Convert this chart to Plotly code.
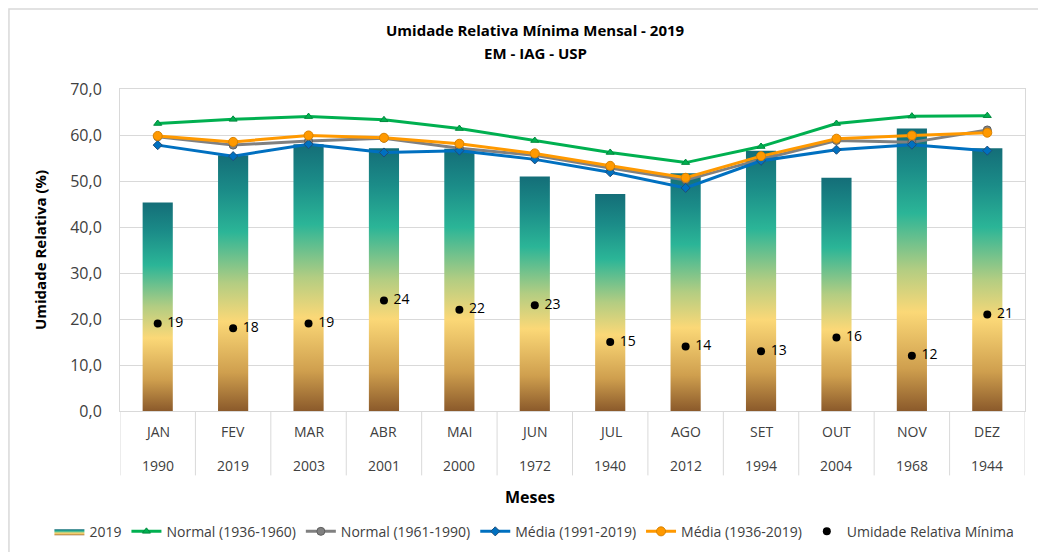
import plotly.graph_objects as go

# months and the year of the record minimum of each month
meses = ["JAN", "FEV", "MAR", "ABR", "MAI", "JUN", "JUL", "AGO", "SET", "OUT", "NOV", "DEZ"]
anos = ["1990", "2019", "2003", "2001", "2000", "1972", "1940", "2012", "1994", "2004", "1968", "1944"]

# 2019 monthly minimum relative humidity (bars)
ur_2019 = [45.3, 55.6, 58.0, 57.1, 57.0, 51.0, 47.2, 51.7, 56.6, 50.7, 61.4, 57.1]

# reference lines
normal_1936_1960 = [62.5, 63.4, 64.0, 63.3, 61.4, 58.8, 56.2, 54.0, 57.5, 62.5, 64.1, 64.2]
normal_1961_1990 = [59.6, 57.8, 58.7, 59.3, 57.1, 55.6, 52.8, 50.2, 54.7, 58.8, 58.4, 61.1]
media_1991_2019 = [57.8, 55.4, 58.0, 56.2, 56.6, 54.7, 51.9, 48.5, 54.4, 56.8, 57.9, 56.6]
media_1936_2019 = [59.8, 58.5, 59.9, 59.4, 58.1, 56.0, 53.3, 50.7, 55.4, 59.2, 59.9, 60.5]

# absolute minimum of each month (dots)
ur_minima = [19, 18, 19, 24, 22, 23, 15, 14, 13, 16, 12, 21]

FONT = "Open Sans"
GRAD = [[0.0, "#8B5A2B"], [0.15, "#CF9F4E"], [0.35, "#FBD877"],
        [0.5, "#B3CD82"], [0.7, "#2BB597"], [0.86, "#1B8C88"], [1.0, "#146E78"]]

x = list(range(len(meses)))
half = 0.2

fig = go.Figure()

# bars drawn as filled shapes so each one can carry its own vertical gradient
for i, v in enumerate(ur_2019):
    fig.add_trace(go.Scatter(
        x=[i - half, i + half, i + half, i - half, i - half],
        y=[0, 0, v, v, 0],
        mode="lines", line=dict(width=0),
        fill="toself",
        fillgradient=dict(type="vertical", colorscale=GRAD, start=0, stop=v),
        name="2019", legendgroup="2019", showlegend=(i == 0),
        hoverinfo="skip"))

series = [
    ("Normal (1936-1960)", normal_1936_1960, "#00B050", "#00893D", "triangle-up", 7),
    ("Normal (1961-1990)", normal_1961_1990, "#808080", "#5F5F5F", "circle", 8),
    ("Média (1991-2019)", media_1991_2019, "#0070C0", "#1F4E79", "diamond", 7),
    ("Média (1936-2019)", media_1936_2019, "#FF9900", "#D98200", "circle", 9),
]
for name, vals, col, edge, sym, size in series:
    fig.add_trace(go.Scatter(
        x=x, y=vals, name=name, mode="lines+markers",
        line=dict(color=col, width=3),
        marker=dict(symbol=sym, size=size, color=col, line=dict(color=edge, width=1))))

fig.add_trace(go.Scatter(
    x=x, y=ur_minima, name="Umidade Relativa Mínima", mode="markers+text",
    marker=dict(color="black", size=8),
    text=["\u00a0" + str(v) for v in ur_minima], textposition="middle right",
    textfont=dict(family=FONT, size=14, color="black")))

# two-row category labels under the axis
for i in x:
    fig.add_annotation(x=i, y=-0.065, xref="x", yref="paper", text=meses[i],
                       showarrow=False, yanchor="middle",
                       font=dict(family=FONT, size=14, color="#404040"))
    fig.add_annotation(x=i, y=-0.168, xref="x", yref="paper", text=anos[i],
                       showarrow=False, yanchor="middle",
                       font=dict(family=FONT, size=14, color="#404040"))
for b in [i - 0.5 for i in x] + [len(meses) - 0.5]:
    fig.add_shape(type="line", xref="x", yref="paper", x0=b, x1=b, y0=0, y1=-0.2,
                  line=dict(color="#D9D9D9", width=1))

fig.add_annotation(x=0.453, y=-0.268, xref="paper", yref="paper", text="<b>Meses</b>",
                   showarrow=False, yanchor="middle",
                   font=dict(family=FONT, size=16, color="black"))

# title as two annotations
fig.add_annotation(x=0.4586, y=1.183, xref="paper", yref="paper",
                   text="<b>Umidade Relativa Mínima Mensal - 2019</b>",
                   showarrow=False, yanchor="middle",
                   font=dict(family=FONT, size=15, color="black"))
fig.add_annotation(x=0.4586, y=1.112, xref="paper", yref="paper",
                   text="<b>EM - IAG - USP</b>",
                   showarrow=False, yanchor="middle",
                   font=dict(family=FONT, size=15, color="black"))

# outer chart border
fig.add_shape(type="rect", xref="paper", yref="paper",
              x0=-0.1227, x1=1.1, y0=-0.5, y1=1.2484,
              line=dict(color="#D9D9D9", width=1.5), layer="below")

# the page body adds an 8px offset, so the figure is drawn 8px smaller
fig.update_layout(
    width=1038, height=544,
    margin=dict(l=112, r=21, t=81, b=141, autoexpand=False),
    paper_bgcolor="white", plot_bgcolor="white",
    separators=",.",
    font=dict(family=FONT, color="#404040"),
    xaxis=dict(range=[-0.5, len(meses) - 0.5], showticklabels=False, showgrid=False,
               zeroline=False, showline=True, linecolor="#D9D9D9", mirror=True),
    yaxis=dict(range=[0, 70], dtick=10, tickformat=".1f", showgrid=True,
               gridcolor="#D9D9D9", zeroline=False, showline=True,
               linecolor="#D9D9D9", mirror=True, ticks="", ticklabelstandoff=14,
               tickfont=dict(family=FONT, size=16, color="#404040"),
               title=dict(text="<b>Umidade Relativa (%)</b>", standoff=19,
                          font=dict(family=FONT, size=15, color="black"))),
    legend=dict(orientation="h", x=-0.078, xanchor="left", y=-0.375, yanchor="middle",
                font=dict(family=FONT, size=14, color="#404040"),
                traceorder="normal", itemwidth=30, tracegroupgap=0),
    showlegend=True,
)

fig.write_html("out.html")
